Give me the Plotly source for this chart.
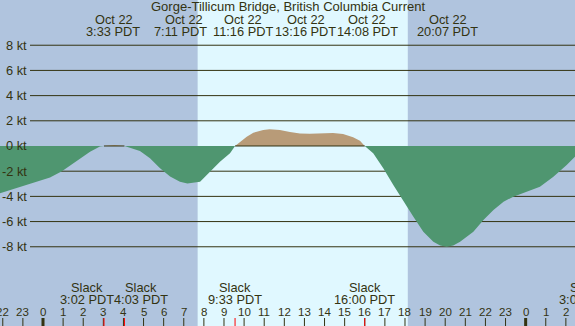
import plotly.graph_objects as go

# ---------------- data (hours since midnight Oct 22, knots) ----------------
hours = [-2.2, -1.14, -0.15, 0.35, 0.94, 1.59, 2.34, 2.83, 3.03, 3.55, 4.05,
         4.82, 5.32, 5.82, 6.32, 6.81, 7.18, 7.81, 8.30, 8.80, 9.30, 9.55,
         9.88, 10.13, 10.46, 10.95, 11.27, 11.78, 12.28, 12.78, 13.27, 13.77,
         14.13, 14.42, 14.92, 15.42, 15.76, 16.0,
         16.42, 16.92, 17.42, 17.92, 18.41, 18.91, 19.41, 19.75, 20.07, 20.4,
         20.74, 21.4, 21.9, 22.4, 22.9, 23.39, 24.05, 24.71, 25.38, 26.04,
         26.45, 27.05]
speed = [-3.78, -3.23, -2.75, -2.5, -2.0, -1.25, -0.45, -0.05, 0.0, 0.08, 0.0,
         -0.4, -0.98, -1.77, -2.43, -2.83, -2.97, -2.83, -2.04, -1.25, -0.58, 0.0,
         0.42, 0.74, 1.06, 1.27, 1.33, 1.27, 1.11, 1.0, 0.97, 1.0,
         1.03, 1.03, 0.95, 0.69, 0.42, 0.0,
         -0.58, -1.77, -3.1, -4.42, -5.6, -6.8, -7.6, -7.9, -8.0, -7.9,
         -7.6, -6.8, -5.87, -5.08, -4.42, -4.02, -3.63, -3.23, -2.44, -1.51,
         -0.85, 0.0]

title_text = "Gorge-Tillicum Bridge, British Columbia Current"
date_label = "Oct 22"

# max current events (top labels)
event_hours = [3.55, 7.183, 11.267, 13.267, 14.133, 20.117]
event_labels = ["3:33 PDT", "7:11 PDT", "11:16 PDT", "13:16 PDT", "14:08 PDT", "20:07 PDT"]
event_shift_date = [0, -3, -27, -4, 40, 0]
event_shift_time = [-1, -7, -27, -4, 40, 0]

# slack events (bottom labels)
slack_hours = [3.033, 4.05, 9.55, 16.0, 27.05]
slack_labels = ["3:02 PDT", "4:03 PDT", "9:33 PDT", "16:00 PDT", "3:03 PDT"]
slack_shift = [-17, 17, 0, 0, -1]

sunrise, sunset = 7.69, 18.14

hour_ticks = list(range(-2, 28))
hour_tick_labels = [str(h % 24) for h in hour_ticks]

y_ticks = [8, 6, 4, 2, 0, -2, -4, -6, -8]
y_tick_labels = [f"{v} kt" for v in y_ticks]

# ---------------- styling ----------------
W, H = 575, 326
NIGHT = "#B0C4DE"
DAY = "#E0F8FF"
EBB = "#4F9670"
FLOOD = "#B89B78"
INK = "#333311"
FONT = "Liberation Sans"

XR = [-2.138, 26.454]
YR = [-14.29, 11.59]

def py(px):  # pixel row -> paper fraction
    return 1 - px / H

def hx(h):  # hour -> paper fraction (so labels past the range stay visible)
    return (h - XR[0]) / (XR[1] - XR[0])

fig = go.Figure()

neg = [min(v, 0) for v in speed]
pos = [max(v, 0) for v in speed]
fig.add_trace(go.Scatter(x=hours, y=neg, mode="lines", fill="tozeroy",
                         fillcolor=EBB, line=dict(width=0, color=EBB),
                         hoverinfo="skip"))
fig.add_trace(go.Scatter(x=hours, y=pos, mode="lines", fill="tozeroy",
                         fillcolor=FLOOD, line=dict(width=0, color=FLOOD),
                         hoverinfo="skip"))
# zero line only where flood
zero_line = [0 if v >= 0 else None for v in speed]
fig.add_trace(go.Scatter(x=hours, y=zero_line, mode="lines",
                         line=dict(width=1, color=INK), connectgaps=False,
                         hoverinfo="skip"))

shapes = []
shapes.append(dict(type="rect", xref="x", yref="paper", x0=sunrise, x1=sunset,
                   y0=0, y1=1, fillcolor=DAY, line=dict(width=0), layer="below"))
grid_x0 = XR[0] + 30 / W * (XR[1] - XR[0])
for v in y_ticks:
    if v == 0:
        continue
    shapes.append(dict(type="line", xref="x", yref="y", x0=grid_x0, x1=XR[1] + 1,
                       y0=v, y1=v, line=dict(color=INK, width=1), layer="below"))
for h in hour_ticks:
    mid = (h % 24 == 0)
    shapes.append(dict(type="line", xref="x", yref="paper", x0=h, x1=h,
                       y0=0, y1=py(318), line=dict(color=INK, width=3 if mid else 1)))
for h in slack_hours:
    shapes.append(dict(type="line", xref="x", yref="paper", x0=h, x1=h,
                       y0=0, y1=py(318), line=dict(color="#FF0000", width=1)))

ann = []
fnt = dict(family=FONT, size=12.8, color=INK)
ann.append(dict(text=title_text, xref="paper", yref="paper", x=0.5, y=py(7),
                showarrow=False, font=dict(family=FONT, size=13, color=INK),
                xanchor="center", yanchor="middle"))
for h, lab, sd, st in zip(event_hours, event_labels, event_shift_date, event_shift_time):
    ann.append(dict(text=date_label, xref="paper", yref="paper", x=hx(h), y=py(19.5),
                    xshift=sd, showarrow=False, font=fnt, xanchor="center", yanchor="middle"))
    ann.append(dict(text=lab, xref="paper", yref="paper", x=hx(h), y=py(31.5),
                    xshift=st, showarrow=False, font=fnt, xanchor="center", yanchor="middle"))
for h, lab, s in zip(slack_hours, slack_labels, slack_shift):
    ann.append(dict(text="Slack", xref="paper", yref="paper", x=hx(h), y=py(287.5),
                    xshift=s, showarrow=False, font=fnt, xanchor="center", yanchor="middle"))
    ann.append(dict(text=lab, xref="paper", yref="paper", x=hx(h), y=py(299.5),
                    xshift=s, showarrow=False, font=fnt, xanchor="center", yanchor="middle"))
for h, lab in zip(hour_ticks, hour_tick_labels):
    ann.append(dict(text=lab, xref="paper", yref="paper", x=hx(h), y=py(311.5),
                    showarrow=False, font=dict(family=FONT, size=11.5, color=INK),
                    xanchor="center", yanchor="middle"))
for v, lab in zip(y_ticks, y_tick_labels):
    ann.append(dict(text=lab, xref="paper", yref="y", x=28.5 / W, y=v,
                    showarrow=False, font=fnt, xanchor="right", yanchor="middle"))

fig.update_layout(
    width=W, height=H, margin=dict(l=0, r=0, t=0, b=0, pad=0),
    paper_bgcolor=NIGHT, plot_bgcolor="rgba(0,0,0,0)",
    showlegend=False, shapes=shapes, annotations=ann,
    xaxis=dict(range=XR, visible=False, fixedrange=True),
    yaxis=dict(range=YR, visible=False, fixedrange=True),
)

fig.write_html("out.html", config=dict(displayModeBar=False),
               post_script="document.body.style.margin='0';document.body.style.padding='0';document.body.style.overflow='hidden';document.body.style.background='" + NIGHT + "';")
